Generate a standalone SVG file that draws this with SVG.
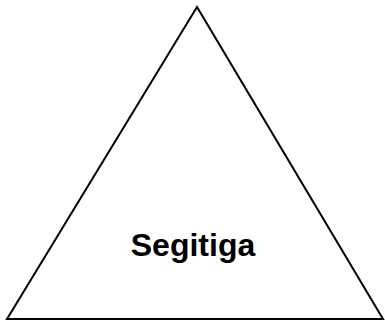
<svg xmlns="http://www.w3.org/2000/svg" width="385" height="323" viewBox="0 0 385 323">
<style>
.shape{fill:#fff;stroke:#000;stroke-width:2}
.label{font-family:"Liberation Sans",Arial,sans-serif;font-weight:bold;font-size:32px;fill:#000;text-anchor:middle}
</style>
<rect width="385" height="323" fill="#fff"/>
<g id="triangle">
<polygon class="shape" points="197,7 7,319 383,319"/>
<text class="label" x="193" y="256">Segitiga</text>
</g>
<g id="connectors"/>
</svg>
